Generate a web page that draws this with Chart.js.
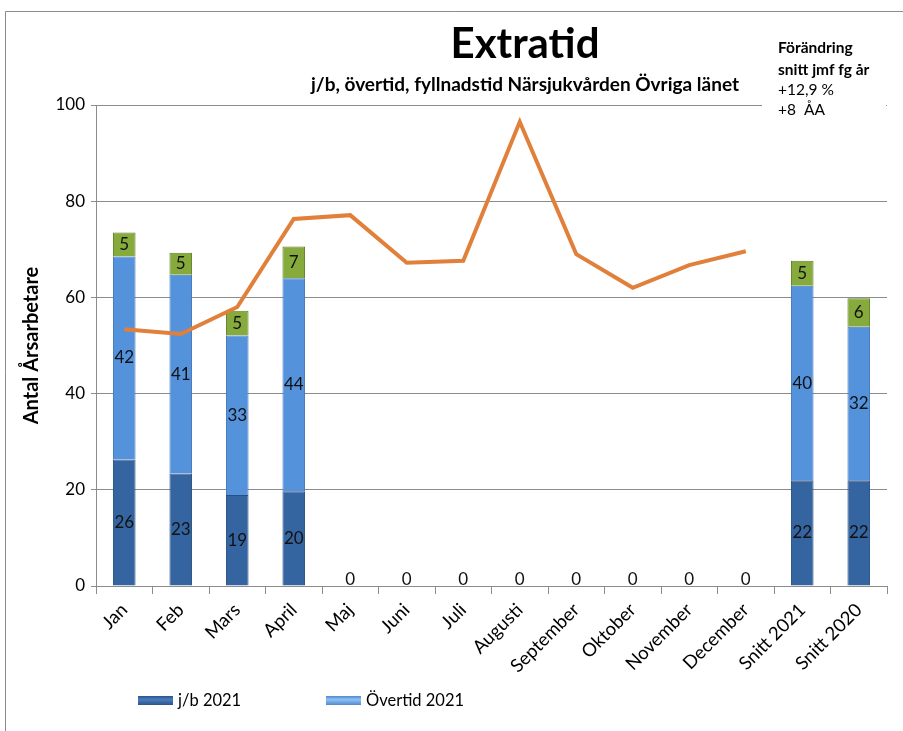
<!DOCTYPE html>
<html>
<head>
<meta charset="utf-8">
<script src="https://cdn.jsdelivr.net/npm/chart.js@4"></script>
<style>
  html, body { margin: 0; padding: 0; background: #fff; }
  #wrap { width: 903px; height: 731px; position: relative; }
</style>
</head>
<body>
<div id="wrap"><canvas id="chart" width="903" height="731"></canvas></div>
<script>
// DATA
const months = ["Jan", "Feb", "Mars", "April", "Maj", "Juni", "Juli", "Augusti",
  "September", "Oktober", "November", "December", "Snitt 2021", "Snitt 2020"];
const jb2021 = [26.3, 23.4, 18.9, 19.7, 0, 0, 0, 0, 0, 0, 0, 0, 22.0, 22.0];
const overtid2021 = [42.2, 41.3, 33.2, 44.3, null, null, null, null, null, null, null, null, 40.4, 31.9];
const fyllnad2021 = [5.0, 4.6, 5.1, 6.6, null, null, null, null, null, null, null, null, 5.2, 5.9];
const total2020 = [53.4, 52.4, 58.0, 76.3, 77.1, 67.2, 67.6, 96.5, 69.0, 62.0, 66.7, 69.6, null, null];
const yTicks = [0, 20, 40, 60, 80, 100];
const noteLines = ["Förändring", "snitt jmf fg år", "+12,9 %", "+8  ÅA"];

const FONT = "Lato, 'Open Sans', sans-serif";

// text, frame, legend, bar labels
const decor = {
  id: "decor",
  afterDraw(chart) {
    const ctx = chart.ctx;
    ctx.save();
    // frame
    ctx.strokeStyle = "#8c8c8c";
    ctx.lineWidth = 1;
    ctx.beginPath();
    ctx.moveTo(5.5, 731);
    ctx.lineTo(5.5, 11.5);
    ctx.lineTo(903, 11.5);
    ctx.stroke();

    // titles
    ctx.fillStyle = "#000";
    ctx.textAlign = "center";
    ctx.textBaseline = "middle";
    ctx.font = "bold 42px " + FONT;
    ctx.fillText("Extratid", 525, 44);
    ctx.font = "bold 19px " + FONT;
    ctx.fillText("j/b, övertid, fyllnadstid Närsjukvården Övriga länet", 525, 85);

    // note box
    ctx.fillStyle = "#fff";
    ctx.fillRect(762, 30, 124, 90);
    ctx.fillStyle = "#000";
    ctx.textAlign = "left";
    ctx.font = "bold 15.5px " + FONT;
    ctx.fillText(noteLines[0], 778, 48);
    ctx.fillText(noteLines[1], 778, 70);
    ctx.font = "15.5px " + FONT;
    ctx.fillText(noteLines[2], 778, 90);
    ctx.fillText(noteLines[3], 778, 110);

    // bar labels
    ctx.font = "17px " + FONT;
    ctx.textAlign = "center";
    ctx.fillStyle = "#111";
    [0, 1, 2].forEach(di => {
      const meta = chart.getDatasetMeta(di);
      const data = chart.data.datasets[di].data;
      meta.data.forEach((el, i) => {
        const v = data[i];
        if (v === null || v === undefined) return;
        const y = v === 0 ? el.y - 6 : (el.y + el.base) / 2;
        ctx.fillText(String(Math.round(v)), el.x, y);
      });
    });

    // legend
    const items = [
      { x: 138, text: "j/b 2021", c1: "#2c5489", c2: "#4a7cc0" },
      { x: 326, text: "Övertid 2021", c1: "#4f88d0", c2: "#8dc2f2" }
    ];
    ctx.font = "16.5px " + FONT;
    items.forEach(it => {
      const g = ctx.createLinearGradient(0, 696, 0, 705);
      g.addColorStop(0, it.c1);
      g.addColorStop(0.4, it.c2);
      g.addColorStop(1, it.c1);
      ctx.fillStyle = g;
      ctx.fillRect(it.x, 696, 35, 9);
      ctx.fillStyle = "#000";
      ctx.textAlign = "left";
      ctx.fillText(it.text, it.x + 40, 701);
    });
    ctx.restore();
  }
};

new Chart(document.getElementById("chart"), {
  type: "bar",
  data: {
    labels: months,
    datasets: [
      {
        label: "j/b 2021",
        data: jb2021,
        backgroundColor: "#3565a0",
        borderColor: "#284f80",
        borderWidth: 1,
        stack: "s",
        order: 2
      },
      {
        label: "Övertid 2021",
        data: overtid2021,
        backgroundColor: "#5592dc",
        borderColor: "#4276b8",
        borderWidth: 1,
        stack: "s",
        order: 2
      },
      {
        label: "Fyllnadstid 2021",
        data: fyllnad2021,
        backgroundColor: "#86ab3c",
        borderColor: "#5f7f26",
        borderWidth: 1,
        stack: "s",
        order: 2
      },
      {
        type: "line",
        label: "Totalt 2020",
        data: total2020,
        borderColor: "#e0803a",
        backgroundColor: "#e0803a",
        borderWidth: 4,
        pointRadius: 0,
        tension: 0,
        order: 1
      }
    ]
  },
  options: {
    responsive: false,
    animation: false,
    layout: { padding: { left: 20, top: 105, right: 16, bottom: 0 } },
    datasets: { bar: { barPercentage: 0.4, categoryPercentage: 1.0 } },
    plugins: {
      legend: { display: false },
      title: { display: false },
      tooltip: { enabled: false }
    },
    scales: {
      x: {
        stacked: true,
        offset: true,
        grid: {
          offset: true,
          drawOnChartArea: false,
          drawTicks: true,
          tickLength: 8,
          color: "#8c8c8c"
        },
        border: { color: "#8c8c8c" },
        ticks: {
          color: "#000",
          font: { family: FONT, size: 18.5 },
          minRotation: 45,
          maxRotation: 45,
          autoSkip: false,
          padding: 5
        },
        afterFit(s) { s.height = 145; }
      },
      y: {
        stacked: true,
        min: 0,
        max: 100,
        afterBuildTicks(s) { s.ticks = yTicks.map(v => ({ value: v })); },
        grid: { color: "#8c8c8c", tickLength: 5 },
        border: { color: "#8c8c8c" },
        ticks: {
          color: "#000",
          font: { family: FONT, size: 17 },
          padding: 6
        },
        title: {
          display: true,
          text: "Antal Årsarbetare",
          color: "#000",
          font: { family: FONT, size: 20, weight: "bold" },
          padding: { top: 0, bottom: 6 }
        },
        afterFit(s) { s.width = 76; }
      }
    }
  },
  plugins: [decor]
});
</script>
</body>
</html>
